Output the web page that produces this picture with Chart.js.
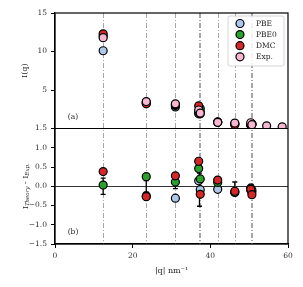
<!DOCTYPE html>
<html>
<head>
<meta charset="utf-8">
<script src="https://cdn.jsdelivr.net/npm/chart.js@4.4.1/dist/chart.umd.min.js"></script>
<style>
  html, body { margin: 0; padding: 0; background: #fff; }
</style>
</head>
<body>
<canvas id="chart" width="303" height="287"></canvas>
<script>
// q positions (nm^-1) of the measured peaks
const qCols = [12.4, 23.5, 31.0, 37.0, 37.4, 41.9, 46.3, 50.4, 50.7];
const qTail = [54.5, 58.5];
const vLines = [12.4, 23.5, 31.0, 37.0, 37.4, 41.9, 46.3, 50.4, 50.7];

// panel (a): I(q)
const pbeI  = [10.1, 3.3, 2.8, 1.9, 2.2, 0.8, 0.6, 0.5, 0.6];
const pbe0I = [12.0, 3.4, 3.0, 2.1, 2.6, 0.8, 0.6, 0.5, 0.6];
const dmcI  = [12.3, 3.2, 3.1, 2.95, 1.9, 0.85, 0.5, 0.45, 0.55];
const expI  = [11.8, 3.5, 3.2, 2.4, 2.0, 0.8, 0.7, 0.75, 0.5];
const expTailI = [0.35, 0.22];

// panel (b): I_Theory - I_Exp
const pbeD  = [null, -0.25, -0.31, 0.14, -0.09, -0.08, -0.15, -0.1, -0.15];
const pbe0D = [0.03, 0.25, 0.11, 0.46, 0.19, 0.1, -0.16, -0.05, -0.1];
const dmcD  = [0.38, -0.27, 0.27, 0.65, -0.21, 0.16, -0.13, -0.08, -0.22];

// experimental error bars (around zero)
const errQ  = [12.4, 23.5, 31.0, 37.2, 46.3, 50.5];
const errLo = [-0.21, -0.15, -0.06, -0.52, -0.11, -0.05];
const errHi = [0.21, 0.15, 0.06, 0.34, 0.11, 0.05];

const colPBE = '#aec7e8', colPBE0 = '#2ca02c', colDMC = '#d62728', colExp = '#f7b6d2';
const FONT = 'DejaVu Serif';

function pts(xs, ys) {
    return xs.map((x, i) => ({ x: x, y: ys[i] })).filter(p => p.y !== null);
}
function ds(label, data, color, axis, order) {
    return {
        label: label, data: data, yAxisID: axis, order: order,
        backgroundColor: color, borderColor: '#000', borderWidth: 1.2,
        pointRadius: 4, pointHoverRadius: 4
    };
}

// vertical dash-dot guides, error bars, clipping per panel
const decorPlugin = {
    id: 'decor',
    beforeDatasetsDraw(chart) {
        const { ctx, chartArea: a, scales } = chart;
        ctx.save();
        ctx.strokeStyle = '#8f8f8f';
        ctx.lineWidth = 0.8;
        ctx.setLineDash([5, 2, 1, 2]);
        vLines.forEach(q => {
            const x = Math.round(scales.x.getPixelForValue(q)) + 0.5;
            ctx.beginPath(); ctx.moveTo(x, a.top); ctx.lineTo(x, a.bottom); ctx.stroke();
        });
        ctx.setLineDash([]);
        ctx.strokeStyle = '#000';
        ctx.lineWidth = 1.3;
        errQ.forEach((q, i) => {
            const x = scales.x.getPixelForValue(q);
            const y1 = scales.yB.getPixelForValue(errLo[i]);
            const y2 = scales.yB.getPixelForValue(errHi[i]);
            ctx.beginPath();
            ctx.moveTo(x, y1); ctx.lineTo(x, y2);
            ctx.moveTo(x - 2.5, y1); ctx.lineTo(x + 2.5, y1);
            ctx.moveTo(x - 2.5, y2); ctx.lineTo(x + 2.5, y2);
            ctx.stroke();
        });
        ctx.restore();
    },
    beforeDatasetDraw(chart, args) {
        const s = chart.scales[args.meta.yAxisID];
        const a = chart.chartArea;
        chart.ctx.save();
        chart.ctx.beginPath();
        chart.ctx.rect(a.left, s.top, a.right - a.left, s.bottom - s.top);
        chart.ctx.clip();
    },
    afterDatasetDraw(chart) {
        chart.ctx.restore();
    },
    afterDraw(chart) {
        const { ctx, chartArea: a, scales } = chart;
        ctx.save();
        // frame and panel separator
        ctx.strokeStyle = '#000';
        ctx.lineWidth = 1.2;
        ctx.strokeRect(a.left, a.top, a.right - a.left, a.bottom - a.top);
        ctx.beginPath();
        ctx.moveTo(a.left, scales.yA.bottom); ctx.lineTo(a.right, scales.yA.bottom);
        ctx.stroke();

        // legend
        const items = chart.data.datasets.filter(d => d.yAxisID === 'yA');
        const lx = 228, ly = 16, lw = 56, lh = 50;
        ctx.fillStyle = 'rgba(255,255,255,0.85)';
        ctx.strokeStyle = '#cccccc';
        ctx.lineWidth = 0.8;
        ctx.beginPath();
        ctx.roundRect(lx, ly, lw, lh, 2);
        ctx.fill(); ctx.stroke();
        ctx.font = '7.5px "' + FONT + '"';
        ctx.textBaseline = 'middle';
        ctx.textAlign = 'left';
        items.forEach((d, i) => {
            const y = ly + 7.5 + i * 11.1;
            ctx.beginPath();
            ctx.arc(lx + 12, y, 4, 0, Math.PI * 2);
            ctx.fillStyle = d.backgroundColor; ctx.fill();
            ctx.strokeStyle = '#000'; ctx.lineWidth = 1.2; ctx.stroke();
            ctx.fillStyle = '#222';
            ctx.fillText(d.label, lx + 28, y + 0.5);
        });

        // panel labels
        ctx.fillStyle = '#222';
        ctx.textAlign = 'center';
        ctx.fillText('(a)', a.left + 18, scales.yA.bottom - 11);
        ctx.fillText('(b)', a.left + 18, scales.yB.bottom - 12);

        // y titles
        ctx.font = '8px "' + FONT + '"';
        ctx.save();
        ctx.translate(25, (scales.yA.top + scales.yA.bottom) / 2);
        ctx.rotate(-Math.PI / 2);
        ctx.fillText('I(q)', 0, 0);
        ctx.restore();

        ctx.save();
        ctx.translate(26, (scales.yB.top + scales.yB.bottom) / 2);
        ctx.rotate(-Math.PI / 2);
        const big = '8px "' + FONT + '"', sub = 'italic 5.5px "' + FONT + '"';
        const parts = [['I', big, 0], ['Theory', sub, 2], [' - I', big, 0], ['Exp.', sub, 2]];
        let w = 0;
        parts.forEach(p => { ctx.font = p[1]; w += ctx.measureText(p[0]).width; });
        let x = -w / 2;
        ctx.textAlign = 'left';
        parts.forEach(p => {
            ctx.font = p[1];
            ctx.fillText(p[0], x, p[2]);
            x += ctx.measureText(p[0]).width;
        });
        ctx.restore();

        // x title
        ctx.font = '8px "' + FONT + '"';
        ctx.textAlign = 'center';
        ctx.fillText('|q| nm\u207B\u00B9', (a.left + a.right) / 2, 271);
        ctx.restore();
    }
};

const tickFont = { family: FONT, size: 7.5 };

new Chart(document.getElementById('chart'), {
    type: 'scatter',
    data: {
        datasets: [
            ds('PBE', pts(qCols, pbeI), colPBE, 'yA', 4),
            ds('PBE0', pts(qCols, pbe0I), colPBE0, 'yA', 3),
            ds('DMC', pts(qCols, dmcI), colDMC, 'yA', 2),
            ds('Exp.', pts(qCols.concat(qTail), expI.concat(expTailI)), colExp, 'yA', 1),
            ds('PBE', pts(qCols, pbeD), colPBE, 'yB', 7),
            ds('PBE0', pts(qCols, pbe0D), colPBE0, 'yB', 6),
            ds('DMC', pts(qCols, dmcD), colDMC, 'yB', 5)
        ]
    },
    options: {
        responsive: false,
        animation: false,
        devicePixelRatio: 1,
        layout: { padding: { top: 13, right: 15, left: 0, bottom: 0 } },
        plugins: { legend: { display: false }, tooltip: { enabled: false } },
        scales: {
            x: {
                type: 'linear', min: 0, max: 60,
                ticks: { stepSize: 20, font: tickFont, color: '#333', padding: 4, maxRotation: 0 },
                grid: { drawOnChartArea: false, tickLength: 4, tickColor: '#000' },
                border: { color: '#000', width: 1.2 },
                afterFit: s => { s.height = 43; }
            },
            yB: {
                type: 'linear', position: 'left', stack: 'panels', stackWeight: 1,
                min: -1.5, max: 1.5,
                ticks: {
                    stepSize: 0.5, autoSkip: false, font: tickFont, color: '#333', padding: 4,
                    callback: v => (v < 0 ? '\u2212' : '') + Math.abs(v).toFixed(1)
                },
                grid: {
                    color: c => (c.tick && c.tick.value === 0) ? '#333' : 'rgba(0,0,0,0)',
                    lineWidth: 1, tickLength: 4, tickColor: '#000'
                },
                border: { color: '#000', width: 1.2 },
                afterFit: s => { s.width = 55; }
            },
            yA: {
                type: 'linear', position: 'left', stack: 'panels', stackWeight: 1,
                min: 0, max: 15,
                ticks: {
                    stepSize: 5, autoSkip: false, font: tickFont, color: '#333', padding: 4,
                    callback: v => v === 0 ? '' : v
                },
                grid: { drawOnChartArea: false, tickLength: 4, tickColor: '#000' },
                border: { color: '#000', width: 1.2 },
                afterFit: s => { s.width = 55; }
            }
        }
    },
    plugins: [decorPlugin]
});
</script>
</body>
</html>
